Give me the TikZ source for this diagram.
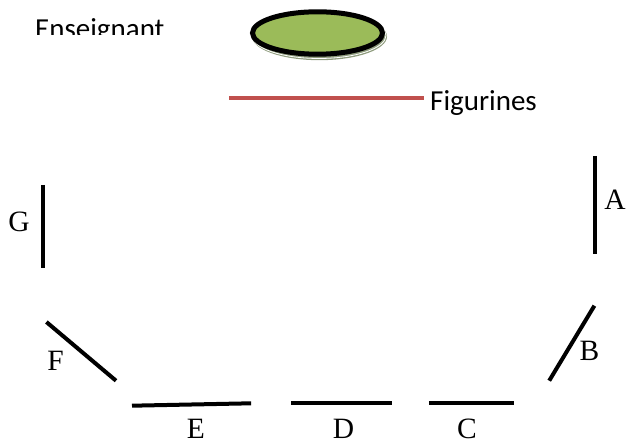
\documentclass[tikz,border=0pt]{standalone}
\usepackage{fontspec}
\setmainfont{Liberation Serif}
\newfontfamily\calibri{Carlito}
\definecolor{figgreen}{HTML}{9BBB59}
\definecolor{figred}{HTML}{C0504D}
\definecolor{shadowgreen}{HTML}{8E9B7C}
\begin{document}
\begin{tikzpicture}[x=1pt,y=-1pt,
  wall/.style={line width=4pt,black},
  lbl/.style={inner sep=0pt,font=\fontsize{29.5}{30}\selectfont},
  sanslbl/.style={inner sep=0pt,anchor=base west,font=\calibri\fontsize{29}{30}\selectfont}]
\useasboundingbox (0,0) rectangle (626,443);
% title text (clipped at bottom as in the original)
\begin{scope}
  \clip (0,0) rectangle (626,34.3);
  \node[sanslbl] (ens) at (35,38.7) {Enseignant};
\end{scope}
% teacher ellipse with shadow
\fill[shadowgreen] (319.5,36.5) ellipse [x radius=67.5pt, y radius=23.7pt];
\draw[white,line width=0.8pt] (319,35.5) ellipse [x radius=67pt, y radius=23pt];
\draw[line width=5pt,fill=figgreen] (317.5,33) ellipse [x radius=65pt, y radius=21.2pt];
\node (teacher) at (317.5,33) {};
% figurines
\coordinate (r1) at (229,98);
\coordinate (r2) at (424,98);
\draw[figred,line width=4.7pt] (r1) -- (r2);
\node[sanslbl] (fig) at (430,111) {Figurines};
% walls
\coordinate (a1) at (594.8,156); \coordinate (a2) at (594.8,254.3);
\coordinate (b1) at (594.4,305.7); \coordinate (b2) at (549.2,380.7);
\coordinate (c1) at (428.8,403.3); \coordinate (c2) at (514.4,403.3);
\coordinate (d1) at (291.2,403.3); \coordinate (d2) at (392.4,403.3);
\coordinate (e1) at (132,405.7); \coordinate (e2) at (251.2,403.3);
\coordinate (f1) at (46.4,322); \coordinate (f2) at (116,380.7);
\coordinate (g1) at (42.8,185); \coordinate (g2) at (42.8,268.3);
\draw[wall] (a1) -- (a2);
\draw[wall] (b1) -- (b2);
\draw[wall] (c1) -- (c2);
\draw[wall] (d1) -- (d2);
\draw[wall] (e1) -- (e2);
\draw[wall] (f1) -- (f2);
\draw[wall] (g1) -- (g2);
% labels
\node[lbl] (A) at (615,199.3) {A};
\node[lbl] (B) at (589.5,351.3) {B};
\node[lbl] (C) at (467,429) {C};
\node[lbl] (D) at (343.5,429) {D};
\node[lbl] (E) at (196,429) {E};
\node[lbl] (F) at (55.5,361.2) {F};
\node[lbl] (G) at (19,222.2) {G};
\end{tikzpicture}
\end{document}
